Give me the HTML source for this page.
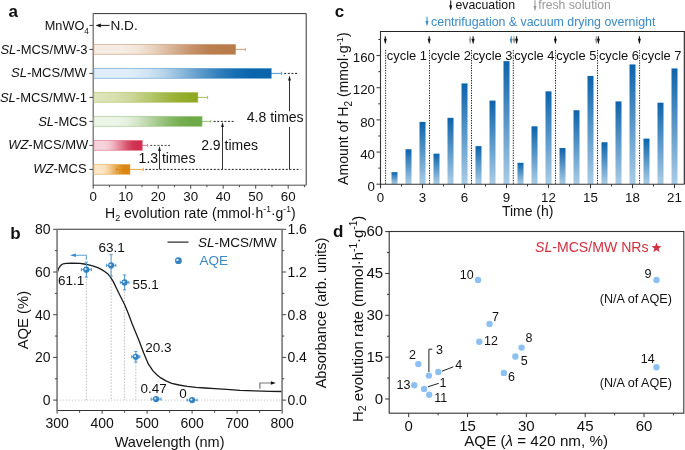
<!DOCTYPE html><html><head><meta charset="utf-8"><style>html,body{margin:0;padding:0;background:#fff;width:685px;height:450px;overflow:hidden}svg{display:block;will-change:transform}text{font-family:"Liberation Sans",sans-serif}</style></head><body>
<svg width="685" height="450" viewBox="0 0 685 450">
<defs>
<linearGradient id="g3" x1="0" y1="0" x2="1" y2="0"><stop offset="0" stop-color="#f6ece3"/><stop offset="0.1" stop-color="#f6ece3"/><stop offset="0.2" stop-color="#f6ece3"/><stop offset="0.3" stop-color="#f3e6da"/><stop offset="0.4" stop-color="#ead6c4"/><stop offset="0.5" stop-color="#dec0a6"/><stop offset="0.6" stop-color="#d1a786"/><stop offset="0.7" stop-color="#c59168"/><stop offset="0.8" stop-color="#bc8152"/><stop offset="0.9" stop-color="#b97b49"/><stop offset="1.0" stop-color="#b97b49"/></linearGradient>
<linearGradient id="gmw" x1="0" y1="0" x2="1" y2="0"><stop offset="0" stop-color="#deedf8"/><stop offset="0.1" stop-color="#deedf8"/><stop offset="0.2" stop-color="#deedf8"/><stop offset="0.3" stop-color="#d2e5f4"/><stop offset="0.4" stop-color="#b4d2e9"/><stop offset="0.5" stop-color="#8bb7da"/><stop offset="0.6" stop-color="#5d9bcb"/><stop offset="0.7" stop-color="#3480bc"/><stop offset="0.8" stop-color="#166db1"/><stop offset="0.9" stop-color="#0a65ad"/><stop offset="1.0" stop-color="#0a65ad"/></linearGradient>
<linearGradient id="g1" x1="0" y1="0" x2="1" y2="0"><stop offset="0" stop-color="#e0e6bd"/><stop offset="0.1" stop-color="#dce3b5"/><stop offset="0.2" stop-color="#d8e0ad"/><stop offset="0.3" stop-color="#d1dba1"/><stop offset="0.4" stop-color="#c7d38e"/><stop offset="0.5" stop-color="#bbca76"/><stop offset="0.6" stop-color="#afc15e"/><stop offset="0.7" stop-color="#a2b746"/><stop offset="0.8" stop-color="#98b033"/><stop offset="0.9" stop-color="#92ab27"/><stop offset="1.0" stop-color="#8ea81f"/></linearGradient>
<linearGradient id="gsl" x1="0" y1="0" x2="1" y2="0"><stop offset="0" stop-color="#edf5e9"/><stop offset="0.1" stop-color="#edf5e9"/><stop offset="0.2" stop-color="#edf5e9"/><stop offset="0.3" stop-color="#e6f1e0"/><stop offset="0.4" stop-color="#d4e6c9"/><stop offset="0.5" stop-color="#bbd7aa"/><stop offset="0.6" stop-color="#a1c887"/><stop offset="0.7" stop-color="#88b968"/><stop offset="0.8" stop-color="#76ae51"/><stop offset="0.9" stop-color="#6faa48"/><stop offset="1.0" stop-color="#6faa48"/></linearGradient>
<linearGradient id="gwzmw" x1="0" y1="0" x2="1" y2="0"><stop offset="0" stop-color="#f6d3da"/><stop offset="0.1" stop-color="#f6d3da"/><stop offset="0.2" stop-color="#f6d3da"/><stop offset="0.3" stop-color="#f4cad2"/><stop offset="0.4" stop-color="#efb2be"/><stop offset="0.5" stop-color="#e792a3"/><stop offset="0.6" stop-color="#e07086"/><stop offset="0.7" stop-color="#d8506b"/><stop offset="0.8" stop-color="#d33857"/><stop offset="0.9" stop-color="#d12f4f"/><stop offset="1.0" stop-color="#d12f4f"/></linearGradient>
<linearGradient id="gwz" x1="0" y1="0" x2="1" y2="0"><stop offset="0" stop-color="#fde6c3"/><stop offset="0.1" stop-color="#fde6c3"/><stop offset="0.2" stop-color="#fde6c3"/><stop offset="0.3" stop-color="#fbe1b9"/><stop offset="0.4" stop-color="#f6d3a0"/><stop offset="0.5" stop-color="#efc07d"/><stop offset="0.6" stop-color="#e7ab56"/><stop offset="0.7" stop-color="#e09833"/><stop offset="0.8" stop-color="#db8a1a"/><stop offset="0.9" stop-color="#d98510"/><stop offset="1.0" stop-color="#d98510"/></linearGradient>
<linearGradient id="gc" x1="0" y1="0" x2="0" y2="1"><stop offset="0" stop-color="#0b63ab"/><stop offset="1" stop-color="#abcde6"/></linearGradient>
<radialGradient id="gdot" cx="0.4" cy="0.4" r="0.6"><stop offset="0" stop-color="#ffffff"/><stop offset="0.25" stop-color="#9cc7e8"/><stop offset="0.6" stop-color="#3b88c6"/><stop offset="1" stop-color="#2a74b4"/></radialGradient>
<marker id="ah" viewBox="0 0 10 10" refX="10" refY="5" markerWidth="5" markerHeight="5" orient="auto-start-reverse"><path d="M0,1 L10,5 L0,9 Z" fill="#111"/></marker>
</defs>
<text x="8.50" y="17.00" font-size="17" text-anchor="start" fill="#111" font-weight="bold">a</text>
<path d="M93.2,13.6 H306.2 V185.2" fill="none" stroke="#333" stroke-width="1"/>
<line x1="93.20" y1="185.20" x2="306.20" y2="185.20" stroke="#8a8a8a" stroke-width="1.4" />
<line x1="93.20" y1="13.10" x2="93.20" y2="185.80" stroke="#666" stroke-width="1.2" />
<line x1="89.40" y1="25.40" x2="93.20" y2="25.40" stroke="#444" stroke-width="1" />
<line x1="89.40" y1="49.40" x2="93.20" y2="49.40" stroke="#444" stroke-width="1" />
<line x1="89.40" y1="73.40" x2="93.20" y2="73.40" stroke="#444" stroke-width="1" />
<line x1="89.40" y1="97.40" x2="93.20" y2="97.40" stroke="#444" stroke-width="1" />
<line x1="89.40" y1="121.40" x2="93.20" y2="121.40" stroke="#444" stroke-width="1" />
<line x1="89.40" y1="145.40" x2="93.20" y2="145.40" stroke="#444" stroke-width="1" />
<line x1="89.40" y1="169.40" x2="93.20" y2="169.40" stroke="#444" stroke-width="1" />
<line x1="93.20" y1="185.20" x2="93.20" y2="188.70" stroke="#444" stroke-width="1" />
<text x="93.20" y="200.80" font-size="13.3" text-anchor="middle" fill="#111" >0</text>
<line x1="125.70" y1="185.20" x2="125.70" y2="188.70" stroke="#444" stroke-width="1" />
<text x="125.70" y="200.80" font-size="13.3" text-anchor="middle" fill="#111" >10</text>
<line x1="158.20" y1="185.20" x2="158.20" y2="188.70" stroke="#444" stroke-width="1" />
<text x="158.20" y="200.80" font-size="13.3" text-anchor="middle" fill="#111" >20</text>
<line x1="190.70" y1="185.20" x2="190.70" y2="188.70" stroke="#444" stroke-width="1" />
<text x="190.70" y="200.80" font-size="13.3" text-anchor="middle" fill="#111" >30</text>
<line x1="223.20" y1="185.20" x2="223.20" y2="188.70" stroke="#444" stroke-width="1" />
<text x="223.20" y="200.80" font-size="13.3" text-anchor="middle" fill="#111" >40</text>
<line x1="255.70" y1="185.20" x2="255.70" y2="188.70" stroke="#444" stroke-width="1" />
<text x="255.70" y="200.80" font-size="13.3" text-anchor="middle" fill="#111" >50</text>
<line x1="288.20" y1="185.20" x2="288.20" y2="188.70" stroke="#444" stroke-width="1" />
<text x="288.20" y="200.80" font-size="13.3" text-anchor="middle" fill="#111" >60</text>
<line x1="109.45" y1="185.20" x2="109.45" y2="187.20" stroke="#444" stroke-width="1" />
<line x1="141.95" y1="185.20" x2="141.95" y2="187.20" stroke="#444" stroke-width="1" />
<line x1="174.45" y1="185.20" x2="174.45" y2="187.20" stroke="#444" stroke-width="1" />
<line x1="206.95" y1="185.20" x2="206.95" y2="187.20" stroke="#444" stroke-width="1" />
<line x1="239.45" y1="185.20" x2="239.45" y2="187.20" stroke="#444" stroke-width="1" />
<line x1="271.95" y1="185.20" x2="271.95" y2="187.20" stroke="#444" stroke-width="1" />
<line x1="304.45" y1="185.20" x2="304.45" y2="187.20" stroke="#444" stroke-width="1" />
<text x="88.9" y="30.40" font-size="12.7" text-anchor="end" fill="#111">MnWO<tspan font-size="8.3" dy="3.5">4</tspan></text>
<text x="87.6" y="54.30" font-size="13" text-anchor="end" fill="#111"><tspan font-style="italic">SL</tspan>-MCS/MW-3</text>
<text x="86.9" y="77.00" font-size="13" text-anchor="end" fill="#111"><tspan font-style="italic">SL</tspan>-MCS/MW</text>
<text x="87.1" y="101.70" font-size="13" text-anchor="end" fill="#111"><tspan font-style="italic">SL</tspan>-MCS/MW-1</text>
<text x="87.3" y="125.50" font-size="13" text-anchor="end" fill="#111"><tspan font-style="italic">SL</tspan>-MCS</text>
<text x="88.3" y="148.90" font-size="13" text-anchor="end" fill="#111"><tspan font-style="italic">WZ</tspan>-MCS/MW</text>
<text x="86.6" y="173.00" font-size="13" text-anchor="end" fill="#111"><tspan font-style="italic">WZ</tspan>-MCS</text>
<line x1="96.50" y1="25.40" x2="109.50" y2="25.40" stroke="#111" stroke-width="1" />
<path d="M95.8,25.4 l5,-2 v4 z" fill="#111"/>
<text x="110.50" y="30.40" font-size="13.6" text-anchor="start" fill="#111" >N.D.</text>
<line x1="225.80" y1="49.40" x2="245.30" y2="49.40" stroke="#d5a582" stroke-width="1" />
<line x1="245.30" y1="47.80" x2="245.30" y2="51.00" stroke="#d5a582" stroke-width="1" />
<rect x="93.80" y="44.50" width="141.75" height="9.8" fill="url(#g3)" stroke="#b97b49" stroke-opacity="0.55" stroke-width="0.8"/>
<line x1="260.90" y1="73.40" x2="281.70" y2="73.40" stroke="#4d95cf" stroke-width="1" />
<line x1="281.70" y1="71.80" x2="281.70" y2="75.00" stroke="#4d95cf" stroke-width="1" />
<rect x="93.80" y="68.50" width="177.50" height="9.8" fill="url(#gmw)" stroke="#2a7cc0" stroke-opacity="0.55" stroke-width="0.8"/>
<line x1="188.10" y1="97.40" x2="207.60" y2="97.40" stroke="#a9bd58" stroke-width="1" />
<line x1="207.60" y1="95.80" x2="207.60" y2="99.00" stroke="#a9bd58" stroke-width="1" />
<rect x="93.80" y="92.50" width="104.05" height="9.8" fill="url(#g1)" stroke="#9cb33a" stroke-opacity="0.55" stroke-width="0.8"/>
<line x1="193.30" y1="121.40" x2="210.85" y2="121.40" stroke="#8fc06f" stroke-width="1" />
<line x1="210.85" y1="119.80" x2="210.85" y2="123.00" stroke="#8fc06f" stroke-width="1" />
<rect x="93.80" y="116.50" width="108.27" height="9.8" fill="url(#gsl)" stroke="#7db35a" stroke-opacity="0.55" stroke-width="0.8"/>
<line x1="137.07" y1="145.40" x2="147.47" y2="145.40" stroke="#e07f92" stroke-width="1" />
<line x1="147.47" y1="143.80" x2="147.47" y2="147.00" stroke="#e07f92" stroke-width="1" />
<rect x="93.80" y="140.50" width="48.48" height="9.8" fill="url(#gwzmw)" stroke="#d6415f" stroke-opacity="0.55" stroke-width="0.8"/>
<line x1="116.60" y1="169.40" x2="143.25" y2="169.40" stroke="#e6a547" stroke-width="1" />
<line x1="143.25" y1="167.80" x2="143.25" y2="171.00" stroke="#e6a547" stroke-width="1" />
<rect x="93.80" y="164.50" width="36.13" height="9.8" fill="url(#gwz)" stroke="#e09226" stroke-opacity="0.55" stroke-width="0.8"/>
<line x1="116.60" y1="169.40" x2="129.93" y2="169.40" stroke="#c9780c" stroke-width="0.8" opacity="0.6"/>
<line x1="116.60" y1="167.90" x2="116.60" y2="170.90" stroke="#c9780c" stroke-width="0.8" opacity="0.6"/>
<line x1="284.20" y1="73.40" x2="298.50" y2="73.40" stroke="#222" stroke-width="1" stroke-dasharray="2,1.6"/>
<line x1="213.60" y1="121.40" x2="233.80" y2="121.40" stroke="#222" stroke-width="1" stroke-dasharray="2,1.6"/>
<line x1="150.20" y1="145.40" x2="170.00" y2="145.40" stroke="#444" stroke-width="1" stroke-dasharray="2,1.6"/>
<line x1="145.40" y1="169.40" x2="300.50" y2="169.40" stroke="#222" stroke-width="1" stroke-dasharray="2,1.6"/>
<line x1="159.50" y1="169.40" x2="159.50" y2="150.00" stroke="#333" stroke-width="1" />
<path d="M159.5,146.0 l-1.4,5.0 h2.8 z" fill="#111"/>
<line x1="222.50" y1="169.40" x2="222.50" y2="126.00" stroke="#333" stroke-width="1" />
<path d="M222.5,122.0 l-1.4,5.0 h2.8 z" fill="#111"/>
<line x1="289.50" y1="169.40" x2="289.50" y2="126.90" stroke="#333" stroke-width="1" />
<line x1="289.50" y1="111.30" x2="289.50" y2="79.40" stroke="#333" stroke-width="1" />
<path d="M289.5,75.4 l-1.4,5.0 h2.8 z" fill="#111"/>
<text x="138.60" y="162.70" font-size="14" text-anchor="start" fill="#111" >1.3 times</text>
<text x="201.20" y="150.00" font-size="14" text-anchor="start" fill="#111" >2.9 times</text>
<text x="246.80" y="122.30" font-size="14" text-anchor="start" fill="#111" >4.8 times</text>
<text x="105.0" y="218.0" font-size="14" fill="#111">H<tspan font-size="9" dy="3">2</tspan><tspan dy="-3"> evolution rate (mmol·h</tspan><tspan font-size="8.5" dy="-5.8">-1</tspan><tspan dy="5.8">·g</tspan><tspan font-size="8.5" dy="-5.8">-1</tspan><tspan dy="5.8">)</tspan></text>
<text x="334.80" y="17.20" font-size="17" text-anchor="start" fill="#111" font-weight="bold">c</text>
<rect x="391.50" y="172.14" width="6" height="12.06" fill="url(#gc)"/>
<rect x="405.50" y="149.23" width="6" height="34.97" fill="url(#gc)"/>
<rect x="419.50" y="121.91" width="6" height="62.29" fill="url(#gc)"/>
<rect x="433.50" y="153.66" width="6" height="30.54" fill="url(#gc)"/>
<rect x="447.50" y="117.81" width="6" height="66.39" fill="url(#gc)"/>
<rect x="461.50" y="83.40" width="6" height="100.80" fill="url(#gc)"/>
<rect x="475.50" y="146.10" width="6" height="38.10" fill="url(#gc)"/>
<rect x="489.50" y="100.60" width="6" height="83.60" fill="url(#gc)"/>
<rect x="503.50" y="61.14" width="6" height="123.06" fill="url(#gc)"/>
<rect x="517.50" y="162.82" width="6" height="21.38" fill="url(#gc)"/>
<rect x="531.50" y="126.33" width="6" height="57.87" fill="url(#gc)"/>
<rect x="545.50" y="91.36" width="6" height="92.84" fill="url(#gc)"/>
<rect x="559.50" y="148.03" width="6" height="36.17" fill="url(#gc)"/>
<rect x="573.50" y="110.25" width="6" height="73.95" fill="url(#gc)"/>
<rect x="587.50" y="75.93" width="6" height="108.27" fill="url(#gc)"/>
<rect x="601.50" y="142.24" width="6" height="41.96" fill="url(#gc)"/>
<rect x="615.50" y="101.41" width="6" height="82.79" fill="url(#gc)"/>
<rect x="629.50" y="64.43" width="6" height="119.77" fill="url(#gc)"/>
<rect x="643.50" y="138.62" width="6" height="45.58" fill="url(#gc)"/>
<rect x="657.50" y="102.69" width="6" height="81.51" fill="url(#gc)"/>
<rect x="671.50" y="68.45" width="6" height="115.75" fill="url(#gc)"/>
<line x1="385.60" y1="50.00" x2="385.60" y2="184.20" stroke="#222" stroke-width="1" stroke-dasharray="1.3,1.2"/>
<line x1="429.50" y1="50.00" x2="429.50" y2="184.20" stroke="#222" stroke-width="1" stroke-dasharray="1.3,1.2"/>
<line x1="471.50" y1="50.00" x2="471.50" y2="184.20" stroke="#222" stroke-width="1" stroke-dasharray="1.3,1.2"/>
<line x1="513.30" y1="50.00" x2="513.30" y2="184.20" stroke="#222" stroke-width="1" stroke-dasharray="1.3,1.2"/>
<line x1="555.50" y1="50.00" x2="555.50" y2="184.20" stroke="#222" stroke-width="1" stroke-dasharray="1.3,1.2"/>
<line x1="597.50" y1="50.00" x2="597.50" y2="184.20" stroke="#222" stroke-width="1" stroke-dasharray="1.3,1.2"/>
<line x1="639.60" y1="50.00" x2="639.60" y2="184.20" stroke="#222" stroke-width="1" stroke-dasharray="1.3,1.2"/>
<path d="M380.5,31.5 H684.3 V184.2" fill="none" stroke="#222" stroke-width="1.1"/>
<line x1="380.50" y1="184.20" x2="684.30" y2="184.20" stroke="#333" stroke-width="1.1" />
<line x1="380.50" y1="31.00" x2="380.50" y2="188.20" stroke="#333" stroke-width="1.1" />
<line x1="376.50" y1="184.20" x2="380.50" y2="184.20" stroke="#333" stroke-width="1" />
<text x="375.00" y="190.80" font-size="13.3" text-anchor="end" fill="#111" >0</text>
<line x1="376.50" y1="152.05" x2="380.50" y2="152.05" stroke="#333" stroke-width="1" />
<text x="375.00" y="158.65" font-size="13.3" text-anchor="end" fill="#111" >40</text>
<line x1="376.50" y1="119.90" x2="380.50" y2="119.90" stroke="#333" stroke-width="1" />
<text x="375.00" y="126.50" font-size="13.3" text-anchor="end" fill="#111" >80</text>
<line x1="376.50" y1="87.74" x2="380.50" y2="87.74" stroke="#333" stroke-width="1" />
<text x="375.00" y="94.34" font-size="13.3" text-anchor="end" fill="#111" >120</text>
<line x1="376.50" y1="55.59" x2="380.50" y2="55.59" stroke="#333" stroke-width="1" />
<text x="375.00" y="62.19" font-size="13.3" text-anchor="end" fill="#111" >160</text>
<line x1="378.30" y1="168.12" x2="380.50" y2="168.12" stroke="#333" stroke-width="1" />
<line x1="378.30" y1="135.97" x2="380.50" y2="135.97" stroke="#333" stroke-width="1" />
<line x1="378.30" y1="103.82" x2="380.50" y2="103.82" stroke="#333" stroke-width="1" />
<line x1="378.30" y1="71.67" x2="380.50" y2="71.67" stroke="#333" stroke-width="1" />
<line x1="378.30" y1="39.52" x2="380.50" y2="39.52" stroke="#333" stroke-width="1" />
<line x1="380.50" y1="184.20" x2="380.50" y2="188.20" stroke="#333" stroke-width="1" />
<text x="380.50" y="202.00" font-size="13.3" text-anchor="middle" fill="#111" >0</text>
<line x1="422.50" y1="184.20" x2="422.50" y2="188.20" stroke="#333" stroke-width="1" />
<text x="422.50" y="202.00" font-size="13.3" text-anchor="middle" fill="#111" >3</text>
<line x1="464.50" y1="184.20" x2="464.50" y2="188.20" stroke="#333" stroke-width="1" />
<text x="464.50" y="202.00" font-size="13.3" text-anchor="middle" fill="#111" >6</text>
<line x1="506.50" y1="184.20" x2="506.50" y2="188.20" stroke="#333" stroke-width="1" />
<text x="506.50" y="202.00" font-size="13.3" text-anchor="middle" fill="#111" >9</text>
<line x1="548.50" y1="184.20" x2="548.50" y2="188.20" stroke="#333" stroke-width="1" />
<text x="548.50" y="202.00" font-size="13.3" text-anchor="middle" fill="#111" >12</text>
<line x1="590.50" y1="184.20" x2="590.50" y2="188.20" stroke="#333" stroke-width="1" />
<text x="590.50" y="202.00" font-size="13.3" text-anchor="middle" fill="#111" >15</text>
<line x1="632.50" y1="184.20" x2="632.50" y2="188.20" stroke="#333" stroke-width="1" />
<text x="632.50" y="202.00" font-size="13.3" text-anchor="middle" fill="#111" >18</text>
<line x1="674.50" y1="184.20" x2="674.50" y2="188.20" stroke="#333" stroke-width="1" />
<text x="674.50" y="202.00" font-size="13.3" text-anchor="middle" fill="#111" >21</text>
<line x1="401.50" y1="184.20" x2="401.50" y2="186.40" stroke="#333" stroke-width="1" />
<line x1="443.50" y1="184.20" x2="443.50" y2="186.40" stroke="#333" stroke-width="1" />
<line x1="485.50" y1="184.20" x2="485.50" y2="186.40" stroke="#333" stroke-width="1" />
<line x1="527.50" y1="184.20" x2="527.50" y2="186.40" stroke="#333" stroke-width="1" />
<line x1="569.50" y1="184.20" x2="569.50" y2="186.40" stroke="#333" stroke-width="1" />
<line x1="611.50" y1="184.20" x2="611.50" y2="186.40" stroke="#333" stroke-width="1" />
<line x1="653.50" y1="184.20" x2="653.50" y2="186.40" stroke="#333" stroke-width="1" />
<text x="527.70" y="216.20" font-size="14" text-anchor="middle" fill="#111" >Time (h)</text>
<text transform="translate(348.4,108.6) rotate(-90)" font-size="14.1" text-anchor="middle" fill="#111">Amount of H<tspan font-size="10" dy="3.2">2</tspan><tspan dy="-3.2"> (mmol·g</tspan><tspan font-size="9.5" dy="-5.8">-1</tspan><tspan dy="5.8">)</tspan></text>
<text x="386.80" y="60.00" font-size="12.9" text-anchor="start" fill="#111" >cycle 1</text>
<text x="430.70" y="60.00" font-size="12.9" text-anchor="start" fill="#111" >cycle 2</text>
<text x="472.40" y="60.00" font-size="12.9" text-anchor="start" fill="#111" >cycle 3</text>
<text x="514.30" y="60.00" font-size="12.9" text-anchor="start" fill="#111" >cycle 4</text>
<text x="556.20" y="60.00" font-size="12.9" text-anchor="start" fill="#111" >cycle 5</text>
<text x="598.90" y="60.00" font-size="12.9" text-anchor="start" fill="#111" >cycle 6</text>
<text x="641.30" y="60.00" font-size="12.9" text-anchor="start" fill="#111" >cycle 7</text>
<line x1="385.30" y1="36.20" x2="385.30" y2="39.20" stroke="#111" stroke-width="1.1" />
<path d="M383.80,38.70 L386.80,38.70 L385.55,43.80 L385.05,43.80 Z" fill="#111"/>
<line x1="429.20" y1="36.20" x2="429.20" y2="39.20" stroke="#111" stroke-width="1.1" />
<path d="M427.70,38.70 L430.70,38.70 L429.45,43.80 L428.95,43.80 Z" fill="#111"/>
<line x1="470.20" y1="36.20" x2="470.20" y2="39.20" stroke="#999" stroke-width="1.1" />
<path d="M468.70,38.70 L471.70,38.70 L470.45,43.80 L469.95,43.80 Z" fill="#999"/>
<line x1="473.10" y1="36.20" x2="473.10" y2="39.20" stroke="#111" stroke-width="1.1" />
<path d="M471.60,38.70 L474.60,38.70 L473.35,43.80 L472.85,43.80 Z" fill="#111"/>
<line x1="511.20" y1="36.20" x2="511.20" y2="39.20" stroke="#3a8ac6" stroke-width="1.1" />
<path d="M509.70,38.70 L512.70,38.70 L511.45,43.80 L510.95,43.80 Z" fill="#3a8ac6"/>
<line x1="514.10" y1="36.20" x2="514.10" y2="39.20" stroke="#999" stroke-width="1.1" />
<path d="M512.60,38.70 L515.60,38.70 L514.35,43.80 L513.85,43.80 Z" fill="#999"/>
<line x1="516.60" y1="36.20" x2="516.60" y2="39.20" stroke="#111" stroke-width="1.1" />
<path d="M515.10,38.70 L518.10,38.70 L516.85,43.80 L516.35,43.80 Z" fill="#111"/>
<line x1="555.40" y1="36.20" x2="555.40" y2="39.20" stroke="#111" stroke-width="1.1" />
<path d="M553.90,38.70 L556.90,38.70 L555.65,43.80 L555.15,43.80 Z" fill="#111"/>
<line x1="596.30" y1="36.20" x2="596.30" y2="39.20" stroke="#999" stroke-width="1.1" />
<path d="M594.80,38.70 L597.80,38.70 L596.55,43.80 L596.05,43.80 Z" fill="#999"/>
<line x1="598.40" y1="36.20" x2="598.40" y2="39.20" stroke="#111" stroke-width="1.1" />
<path d="M596.90,38.70 L599.90,38.70 L598.65,43.80 L598.15,43.80 Z" fill="#111"/>
<line x1="639.40" y1="36.20" x2="639.40" y2="39.20" stroke="#111" stroke-width="1.1" />
<path d="M637.90,38.70 L640.90,38.70 L639.65,43.80 L639.15,43.80 Z" fill="#111"/>
<line x1="450.70" y1="0.60" x2="450.70" y2="5.70" stroke="#111" stroke-width="1.1" />
<path d="M449.20,5.20 L452.20,5.20 L450.95,10.00 L450.45,10.00 Z" fill="#111"/>
<text x="455.50" y="9.20" font-size="12.3" text-anchor="start" fill="#111" >evacuation</text>
<line x1="535.00" y1="0.20" x2="535.00" y2="6.50" stroke="#999" stroke-width="1.1" />
<path d="M533.50,6.00 L536.50,6.00 L535.25,10.80 L534.75,10.80 Z" fill="#999"/>
<text x="538.30" y="9.40" font-size="12.2" text-anchor="start" fill="#999" >fresh solution</text>
<line x1="427.00" y1="16.80" x2="427.00" y2="21.50" stroke="#3a8ac6" stroke-width="1.1" />
<path d="M425.50,21.00 L428.50,21.00 L427.25,25.80 L426.75,25.80 Z" fill="#3a8ac6"/>
<text x="431.10" y="25.60" font-size="12.38" text-anchor="start" fill="#3a8ac6" >centrifugation &amp; vacuum drying overnight</text>
<text x="10.20" y="239.40" font-size="17" text-anchor="start" fill="#111" font-weight="bold">b</text>
<line x1="57.10" y1="400.10" x2="282.10" y2="400.10" stroke="#c4c4c4" stroke-width="1" stroke-dasharray="1.2,1.8"/>
<line x1="86.35" y1="272.65" x2="86.35" y2="400.10" stroke="#bbb" stroke-width="1" stroke-dasharray="1.5,1.5"/>
<line x1="111.10" y1="268.38" x2="111.10" y2="400.10" stroke="#bbb" stroke-width="1" stroke-dasharray="1.5,1.5"/>
<line x1="124.60" y1="285.46" x2="124.60" y2="400.10" stroke="#bbb" stroke-width="1" stroke-dasharray="1.5,1.5"/>
<line x1="135.85" y1="359.76" x2="135.85" y2="400.10" stroke="#bbb" stroke-width="1" stroke-dasharray="1.5,1.5"/>
<path d="M57.3,272.5 L58.5,268.8 L59.7,266.7 L61.5,264.8 L63.2,263.8 L66.0,263.3 L72.0,263.1 L80.0,263.3 L84.2,264.0 L88.8,264.9 L93.5,266.1 L97.8,267.7 L101.7,269.6 L105.0,271.7 L107.6,273.7 L110.5,277.2 L113.4,281.9 L117.3,290.0 L120.4,296.2 L124.9,305.2 L128.5,314.0 L132.0,323.5 L135.5,332.0 L139.0,340.6 L143.7,353.0 L148.3,363.9 L153.0,370.9 L156.8,374.8 L160.8,377.9 L166.0,380.9 L171.7,383.3 L179.0,385.0 L187.2,386.3 L196.0,387.3 L205.0,388.0 L215.0,388.7 L226.7,389.4 L240.0,390.3 L255.0,390.9 L270.0,391.3 L282.3,391.5" fill="none" stroke="#1a1a1a" stroke-width="1.3" stroke-linejoin="round"/>
<line x1="86.35" y1="262.18" x2="86.35" y2="277.12" stroke="#4a95d0" stroke-width="1" />
<line x1="84.75" y1="262.18" x2="87.95" y2="262.18" stroke="#4a95d0" stroke-width="1" />
<line x1="84.75" y1="277.12" x2="87.95" y2="277.12" stroke="#4a95d0" stroke-width="1" />
<line x1="81.39" y1="269.65" x2="91.31" y2="269.65" stroke="#4a95d0" stroke-width="1" />
<line x1="81.39" y1="268.05" x2="81.39" y2="271.25" stroke="#4a95d0" stroke-width="1" />
<line x1="91.31" y1="268.05" x2="91.31" y2="271.25" stroke="#4a95d0" stroke-width="1" />
<circle cx="86.35" cy="269.65" r="3.1" fill="#3382c3"/><circle cx="85.55" cy="269.05" r="1.1" fill="#fff" fill-opacity="0.8"/>
<line x1="111.10" y1="254.71" x2="111.10" y2="276.06" stroke="#4a95d0" stroke-width="1" />
<line x1="109.50" y1="254.71" x2="112.70" y2="254.71" stroke="#4a95d0" stroke-width="1" />
<line x1="109.50" y1="276.06" x2="112.70" y2="276.06" stroke="#4a95d0" stroke-width="1" />
<line x1="106.36" y1="265.38" x2="115.84" y2="265.38" stroke="#4a95d0" stroke-width="1" />
<line x1="106.36" y1="263.78" x2="106.36" y2="266.98" stroke="#4a95d0" stroke-width="1" />
<line x1="115.84" y1="263.78" x2="115.84" y2="266.98" stroke="#4a95d0" stroke-width="1" />
<circle cx="111.10" cy="265.38" r="3.1" fill="#3382c3"/><circle cx="110.30" cy="264.78" r="1.1" fill="#fff" fill-opacity="0.8"/>
<line x1="124.60" y1="274.99" x2="124.60" y2="289.93" stroke="#4a95d0" stroke-width="1" />
<line x1="123.00" y1="274.99" x2="126.20" y2="274.99" stroke="#4a95d0" stroke-width="1" />
<line x1="123.00" y1="289.93" x2="126.20" y2="289.93" stroke="#4a95d0" stroke-width="1" />
<line x1="120.32" y1="282.46" x2="128.88" y2="282.46" stroke="#4a95d0" stroke-width="1" />
<line x1="120.32" y1="280.86" x2="120.32" y2="284.06" stroke="#4a95d0" stroke-width="1" />
<line x1="128.88" y1="280.86" x2="128.88" y2="284.06" stroke="#4a95d0" stroke-width="1" />
<circle cx="124.60" cy="282.46" r="3.1" fill="#3382c3"/><circle cx="123.80" cy="281.86" r="1.1" fill="#fff" fill-opacity="0.8"/>
<line x1="135.85" y1="351.42" x2="135.85" y2="362.10" stroke="#4a95d0" stroke-width="1" />
<line x1="134.25" y1="351.42" x2="137.45" y2="351.42" stroke="#4a95d0" stroke-width="1" />
<line x1="134.25" y1="362.10" x2="137.45" y2="362.10" stroke="#4a95d0" stroke-width="1" />
<line x1="131.79" y1="356.76" x2="139.91" y2="356.76" stroke="#4a95d0" stroke-width="1" />
<line x1="131.79" y1="355.16" x2="131.79" y2="358.36" stroke="#4a95d0" stroke-width="1" />
<line x1="139.91" y1="355.16" x2="139.91" y2="358.36" stroke="#4a95d0" stroke-width="1" />
<circle cx="135.85" cy="356.76" r="3.1" fill="#3382c3"/><circle cx="135.05" cy="356.16" r="1.1" fill="#fff" fill-opacity="0.8"/>
<line x1="156.10" y1="398.03" x2="156.10" y2="400.16" stroke="#4a95d0" stroke-width="1" />
<line x1="154.50" y1="398.03" x2="157.70" y2="398.03" stroke="#4a95d0" stroke-width="1" />
<line x1="154.50" y1="400.16" x2="157.70" y2="400.16" stroke="#4a95d0" stroke-width="1" />
<line x1="151.14" y1="399.10" x2="161.06" y2="399.10" stroke="#4a95d0" stroke-width="1" />
<line x1="151.14" y1="397.50" x2="151.14" y2="400.70" stroke="#4a95d0" stroke-width="1" />
<line x1="161.06" y1="397.50" x2="161.06" y2="400.70" stroke="#4a95d0" stroke-width="1" />
<circle cx="156.10" cy="399.10" r="3.1" fill="#3382c3"/><circle cx="155.30" cy="398.50" r="1.1" fill="#fff" fill-opacity="0.8"/>
<line x1="192.10" y1="399.46" x2="192.10" y2="400.74" stroke="#4a95d0" stroke-width="1" />
<line x1="190.50" y1="399.46" x2="193.70" y2="399.46" stroke="#4a95d0" stroke-width="1" />
<line x1="190.50" y1="400.74" x2="193.70" y2="400.74" stroke="#4a95d0" stroke-width="1" />
<line x1="187.14" y1="400.10" x2="197.06" y2="400.10" stroke="#4a95d0" stroke-width="1" />
<line x1="187.14" y1="398.50" x2="187.14" y2="401.70" stroke="#4a95d0" stroke-width="1" />
<line x1="197.06" y1="398.50" x2="197.06" y2="401.70" stroke="#4a95d0" stroke-width="1" />
<circle cx="192.10" cy="400.10" r="3.1" fill="#3382c3"/><circle cx="191.30" cy="399.50" r="1.1" fill="#fff" fill-opacity="0.8"/>
<line x1="57.10" y1="229.30" x2="282.10" y2="229.30" stroke="#333" stroke-width="1.1" />
<line x1="57.10" y1="410.50" x2="282.10" y2="410.50" stroke="#333" stroke-width="1.1" />
<line x1="57.10" y1="229.30" x2="57.10" y2="411.00" stroke="#888" stroke-width="1.8" />
<line x1="282.10" y1="229.30" x2="282.10" y2="411.00" stroke="#888" stroke-width="1.8" />
<line x1="53.10" y1="400.10" x2="57.10" y2="400.10" stroke="#444" stroke-width="1" />
<text x="50.60" y="405.10" font-size="14" text-anchor="end" fill="#111" >0</text>
<line x1="53.10" y1="357.40" x2="57.10" y2="357.40" stroke="#444" stroke-width="1" />
<text x="50.60" y="362.40" font-size="14" text-anchor="end" fill="#111" >20</text>
<line x1="53.10" y1="314.70" x2="57.10" y2="314.70" stroke="#444" stroke-width="1" />
<text x="50.60" y="319.70" font-size="14" text-anchor="end" fill="#111" >40</text>
<line x1="53.10" y1="272.00" x2="57.10" y2="272.00" stroke="#444" stroke-width="1" />
<text x="50.60" y="277.00" font-size="14" text-anchor="end" fill="#111" >60</text>
<line x1="53.10" y1="229.30" x2="57.10" y2="229.30" stroke="#444" stroke-width="1" />
<text x="50.60" y="234.30" font-size="14" text-anchor="end" fill="#111" >80</text>
<line x1="54.90" y1="378.75" x2="57.10" y2="378.75" stroke="#444" stroke-width="1" />
<line x1="54.90" y1="336.05" x2="57.10" y2="336.05" stroke="#444" stroke-width="1" />
<line x1="54.90" y1="293.35" x2="57.10" y2="293.35" stroke="#444" stroke-width="1" />
<line x1="54.90" y1="250.65" x2="57.10" y2="250.65" stroke="#444" stroke-width="1" />
<line x1="282.10" y1="400.10" x2="286.10" y2="400.10" stroke="#444" stroke-width="1" />
<text x="287.40" y="405.10" font-size="14" text-anchor="start" fill="#111" >0.0</text>
<line x1="282.10" y1="357.40" x2="286.10" y2="357.40" stroke="#444" stroke-width="1" />
<text x="287.40" y="362.40" font-size="14" text-anchor="start" fill="#111" >0.4</text>
<line x1="282.10" y1="314.70" x2="286.10" y2="314.70" stroke="#444" stroke-width="1" />
<text x="287.40" y="319.70" font-size="14" text-anchor="start" fill="#111" >0.8</text>
<line x1="282.10" y1="272.00" x2="286.10" y2="272.00" stroke="#444" stroke-width="1" />
<text x="287.40" y="277.00" font-size="14" text-anchor="start" fill="#111" >1.2</text>
<line x1="282.10" y1="229.30" x2="286.10" y2="229.30" stroke="#444" stroke-width="1" />
<text x="287.40" y="234.30" font-size="14" text-anchor="start" fill="#111" >1.6</text>
<line x1="282.10" y1="378.75" x2="284.30" y2="378.75" stroke="#444" stroke-width="1" />
<line x1="282.10" y1="336.05" x2="284.30" y2="336.05" stroke="#444" stroke-width="1" />
<line x1="282.10" y1="293.35" x2="284.30" y2="293.35" stroke="#444" stroke-width="1" />
<line x1="282.10" y1="250.65" x2="284.30" y2="250.65" stroke="#444" stroke-width="1" />
<line x1="57.10" y1="410.50" x2="57.10" y2="413.70" stroke="#444" stroke-width="1" />
<text x="57.10" y="427.50" font-size="14" text-anchor="middle" fill="#111" >300</text>
<line x1="102.10" y1="410.50" x2="102.10" y2="413.70" stroke="#444" stroke-width="1" />
<text x="102.10" y="427.50" font-size="14" text-anchor="middle" fill="#111" >400</text>
<line x1="147.10" y1="410.50" x2="147.10" y2="413.70" stroke="#444" stroke-width="1" />
<text x="147.10" y="427.50" font-size="14" text-anchor="middle" fill="#111" >500</text>
<line x1="192.10" y1="410.50" x2="192.10" y2="413.70" stroke="#444" stroke-width="1" />
<text x="192.10" y="427.50" font-size="14" text-anchor="middle" fill="#111" >600</text>
<line x1="237.10" y1="410.50" x2="237.10" y2="413.70" stroke="#444" stroke-width="1" />
<text x="237.10" y="427.50" font-size="14" text-anchor="middle" fill="#111" >700</text>
<line x1="282.10" y1="410.50" x2="282.10" y2="413.70" stroke="#444" stroke-width="1" />
<text x="282.10" y="427.50" font-size="14" text-anchor="middle" fill="#111" >800</text>
<line x1="79.60" y1="410.50" x2="79.60" y2="412.70" stroke="#444" stroke-width="1" />
<line x1="124.60" y1="410.50" x2="124.60" y2="412.70" stroke="#444" stroke-width="1" />
<line x1="169.60" y1="410.50" x2="169.60" y2="412.70" stroke="#444" stroke-width="1" />
<line x1="214.60" y1="410.50" x2="214.60" y2="412.70" stroke="#444" stroke-width="1" />
<line x1="259.60" y1="410.50" x2="259.60" y2="412.70" stroke="#444" stroke-width="1" />
<text x="169.60" y="446.50" font-size="14.5" text-anchor="middle" fill="#111" >Wavelength (nm)</text>
<text transform="translate(27.8,320.1) rotate(-90)" font-size="14.8" text-anchor="middle" fill="#111">AQE (%)</text>
<text transform="translate(325.8,313) rotate(-90)" font-size="14.5" text-anchor="middle" fill="#111">Absorbance (arb. units)</text>
<text x="58.00" y="285.30" font-size="13.5" text-anchor="start" fill="#111" >61.1</text>
<text x="98.60" y="251.50" font-size="13.5" text-anchor="start" fill="#111" >63.1</text>
<text x="132.50" y="288.80" font-size="13.5" text-anchor="start" fill="#111" >55.1</text>
<text x="145.20" y="352.20" font-size="13.5" text-anchor="start" fill="#111" >20.3</text>
<text x="140.60" y="393.40" font-size="13.5" text-anchor="start" fill="#111" >0.47</text>
<text x="179.30" y="398.00" font-size="13.5" text-anchor="start" fill="#111" >0</text>
<line x1="167.50" y1="242.10" x2="188.50" y2="242.10" stroke="#111" stroke-width="1.1" />
<text x="198.1" y="247.4" font-size="13.5" fill="#111"><tspan font-style="italic">SL</tspan>-MCS/MW</text>
<circle cx="178.4" cy="260.7" r="3.4" fill="#3382c3"/><circle cx="177.4" cy="259.9" r="1.2" fill="#fff" fill-opacity="0.8"/>
<text x="199.60" y="265.20" font-size="13.5" text-anchor="start" fill="#3a8ac6" >AQE</text>
<path d="M86.3,259.8 V255.2 H74" fill="none" stroke="#5d9fd6" stroke-width="1.1"/>
<path d="M70.0,255.2 l5.8,-1.7 v3.4 z" fill="#3a86c6"/>
<path d="M259.9,388.7 V383 H272" fill="none" stroke="#777" stroke-width="1.2"/>
<path d="M275.8,383 l-5.0,-1.8 v3.6 z" fill="#111"/>
<text x="333.00" y="236.50" font-size="17" text-anchor="start" fill="#111" font-weight="bold">d</text>
<rect x="389.2" y="231.5" width="294.59999999999997" height="181.7" fill="none" stroke="#333" stroke-width="1.1"/>
<line x1="385.20" y1="399.00" x2="389.20" y2="399.00" stroke="#333" stroke-width="1" />
<text x="383.20" y="403.70" font-size="15" text-anchor="end" fill="#111" >0</text>
<line x1="385.20" y1="357.15" x2="389.20" y2="357.15" stroke="#333" stroke-width="1" />
<text x="383.20" y="361.85" font-size="15" text-anchor="end" fill="#111" >15</text>
<line x1="385.20" y1="315.30" x2="389.20" y2="315.30" stroke="#333" stroke-width="1" />
<text x="383.20" y="320.00" font-size="15" text-anchor="end" fill="#111" >30</text>
<line x1="385.20" y1="273.45" x2="389.20" y2="273.45" stroke="#333" stroke-width="1" />
<text x="383.20" y="278.15" font-size="15" text-anchor="end" fill="#111" >45</text>
<line x1="385.20" y1="231.60" x2="389.20" y2="231.60" stroke="#333" stroke-width="1" />
<text x="383.20" y="236.30" font-size="15" text-anchor="end" fill="#111" >60</text>
<line x1="387.00" y1="378.07" x2="389.20" y2="378.07" stroke="#333" stroke-width="1" />
<line x1="387.00" y1="336.23" x2="389.20" y2="336.23" stroke="#333" stroke-width="1" />
<line x1="387.00" y1="294.38" x2="389.20" y2="294.38" stroke="#333" stroke-width="1" />
<line x1="387.00" y1="252.53" x2="389.20" y2="252.53" stroke="#333" stroke-width="1" />
<line x1="408.70" y1="413.20" x2="408.70" y2="417.20" stroke="#333" stroke-width="1" />
<text x="408.70" y="430.80" font-size="15" text-anchor="middle" fill="#111" >0</text>
<line x1="467.53" y1="413.20" x2="467.53" y2="417.20" stroke="#333" stroke-width="1" />
<text x="467.53" y="430.80" font-size="15" text-anchor="middle" fill="#111" >15</text>
<line x1="526.36" y1="413.20" x2="526.36" y2="417.20" stroke="#333" stroke-width="1" />
<text x="526.36" y="430.80" font-size="15" text-anchor="middle" fill="#111" >30</text>
<line x1="585.19" y1="413.20" x2="585.19" y2="417.20" stroke="#333" stroke-width="1" />
<text x="585.19" y="430.80" font-size="15" text-anchor="middle" fill="#111" >45</text>
<line x1="644.02" y1="413.20" x2="644.02" y2="417.20" stroke="#333" stroke-width="1" />
<text x="644.02" y="430.80" font-size="15" text-anchor="middle" fill="#111" >60</text>
<line x1="438.12" y1="413.20" x2="438.12" y2="415.40" stroke="#333" stroke-width="1" />
<line x1="496.94" y1="413.20" x2="496.94" y2="415.40" stroke="#333" stroke-width="1" />
<line x1="555.77" y1="413.20" x2="555.77" y2="415.40" stroke="#333" stroke-width="1" />
<line x1="614.61" y1="413.20" x2="614.61" y2="415.40" stroke="#333" stroke-width="1" />
<line x1="673.43" y1="413.20" x2="673.43" y2="415.40" stroke="#333" stroke-width="1" />
<text x="536.1" y="445.6" font-size="15.2" text-anchor="middle" fill="#111">AQE (<tspan font-style="italic">λ</tspan> = 420 nm, %)</text>
<text transform="translate(363.0,318.9) rotate(-90)" font-size="15" text-anchor="middle" fill="#111">H<tspan font-size="10.5" dy="3.3">2</tspan><tspan dy="-3.3"> evolution rate (mmol·h</tspan><tspan font-size="10" dy="-6">-1</tspan><tspan dy="6">·g</tspan><tspan font-size="10" dy="-6">-1</tspan><tspan dy="6">)</tspan></text>
<circle cx="418.3" cy="364.1" r="3.2" fill="#8cc0f3"/>
<circle cx="428.9" cy="375.6" r="3.2" fill="#8cc0f3"/>
<circle cx="438.3" cy="371.9" r="3.2" fill="#8cc0f3"/>
<circle cx="414.3" cy="385.2" r="3.2" fill="#8cc0f3"/>
<circle cx="424.1" cy="388.9" r="3.2" fill="#8cc0f3"/>
<circle cx="429.2" cy="394.8" r="3.2" fill="#8cc0f3"/>
<circle cx="479.3" cy="341.7" r="3.2" fill="#8cc0f3"/>
<circle cx="503.9" cy="372.9" r="3.2" fill="#8cc0f3"/>
<circle cx="478.0" cy="280.0" r="3.2" fill="#8cc0f3"/>
<circle cx="489.5" cy="324.0" r="3.2" fill="#8cc0f3"/>
<circle cx="521.6" cy="347.6" r="3.2" fill="#8cc0f3"/>
<circle cx="515.4" cy="356.5" r="3.2" fill="#8cc0f3"/>
<circle cx="656.4" cy="367.2" r="3.2" fill="#8cc0f3"/>
<circle cx="656.5" cy="280.0" r="3.2" fill="#8cc0f3"/>
<path d="M428.9,372 V349.2 H432.3" fill="none" stroke="#222" stroke-width="1"/>
<line x1="442.00" y1="371.20" x2="453.40" y2="366.80" stroke="#222" stroke-width="1" />
<line x1="428.00" y1="386.80" x2="438.80" y2="383.30" stroke="#222" stroke-width="1" />
<text x="409.00" y="359.30" font-size="12.5" text-anchor="start" fill="#111" >2</text>
<text x="436.00" y="353.50" font-size="12.5" text-anchor="start" fill="#111" >3</text>
<text x="455.20" y="368.70" font-size="12.5" text-anchor="start" fill="#111" >4</text>
<text x="396.50" y="389.20" font-size="12.5" text-anchor="start" fill="#111" >13</text>
<text x="439.60" y="386.50" font-size="12.5" text-anchor="start" fill="#111" >1</text>
<text x="434.30" y="402.00" font-size="12.5" text-anchor="start" fill="#111" >11</text>
<text x="484.00" y="344.70" font-size="12.5" text-anchor="start" fill="#111" >12</text>
<text x="508.00" y="380.80" font-size="12.5" text-anchor="start" fill="#111" >6</text>
<text x="520.80" y="364.60" font-size="12.5" text-anchor="start" fill="#111" >5</text>
<text x="525.60" y="342.20" font-size="12.5" text-anchor="start" fill="#111" >8</text>
<text x="640.80" y="363.00" font-size="12.5" text-anchor="start" fill="#111" >14</text>
<text x="644.40" y="278.10" font-size="12.5" text-anchor="start" fill="#111" >9</text>
<text x="459.80" y="278.70" font-size="12.5" text-anchor="start" fill="#111" >10</text>
<text x="492.00" y="320.50" font-size="12.5" text-anchor="start" fill="#111" >7</text>
<text x="599.80" y="303.20" font-size="12.6" text-anchor="start" fill="#111" >(N/A of AQE)</text>
<text x="599.80" y="386.80" font-size="12.6" text-anchor="start" fill="#111" >(N/A of AQE)</text>
<text x="535.0" y="252.3" font-size="14.1" fill="#d3303f"><tspan font-style="italic">SL</tspan>-MCS/MW NRs</text>
<polygon points="656.50,242.60 657.79,246.12 661.54,246.26 658.59,248.58 659.62,252.19 656.50,250.10 653.38,252.19 654.41,248.58 651.46,246.26 655.21,246.12" fill="#d3303f"/>
</svg></body></html>
